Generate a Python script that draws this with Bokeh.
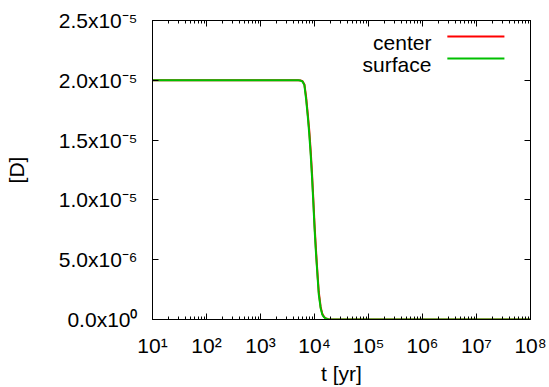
import math
from bokeh.plotting import figure
from bokeh.models import (LogAxis, LinearAxis, FixedTicker, Range1d, Label,
                          CustomJSTickFormatter)
from bokeh.embed import file_html
from bokeh.resources import INLINE

# ---------------- data ----------------
t_yr = [10, 100, 1000, 2000, 3000, 4000, 5000, 5500, 6000, 6500, 7000, 7500,
        8000, 8500, 9000, 9500, 10000, 10500, 11000, 11500, 12000, 13000,
        14000, 15000, 16000, 18000, 20000, 30000, 1e5, 1e6, 1e7, 1e8]
center = [2.0e-5, 2.0e-5, 2.0e-5, 2.0e-5, 2.0e-5, 2.0e-5, 2.0e-5, 1.999e-5,
          1.992e-5, 1.965e-5, 1.86e-5, 1.72e-5, 1.58e-5, 1.41e-5, 1.22e-5,
          1.01e-5, 8.0e-6, 6.3e-6, 4.8e-6, 3.5e-6, 2.3e-6, 1.05e-6, 4.5e-7,
          2.2e-7, 1.0e-7, 2.5e-8, 6e-9, 0.0, 0.0, 0.0, 0.0, 0.0]
surface = [2.0e-5, 2.0e-5, 2.0e-5, 2.0e-5, 2.0e-5, 2.0e-5, 2.0e-5, 1.998e-5,
           1.99e-5, 1.96e-5, 1.84e-5, 1.70e-5, 1.55e-5, 1.38e-5, 1.19e-5,
           0.98e-5, 7.7e-6, 6.0e-6, 4.6e-6, 3.3e-6, 2.1e-6, 9.5e-7, 4.0e-7,
           2.0e-7, 9e-8, 2e-8, 5e-9, 0.0, 0.0, 0.0, 0.0, 0.0]
series_names = ["center", "surface"]
series_colors = ["#ff0000", "#00c000"]

x_ticks = [1e1, 1e2, 1e3, 1e4, 1e5, 1e6, 1e7, 1e8]
x_tick_base = ["10"] * 8
x_tick_exp = ["1", "2", "3", "4", "5", "6", "7", "8"]
x_minor = [m * 10.0 ** n for n in range(1, 8) for m in range(2, 10)]

y_ticks = [0.0, 5e-6, 1.0e-5, 1.5e-5, 2.0e-5, 2.5e-5]
y_tick_base = ["0.0x10", "5.0x10", "1.0x10", "1.5x10", "2.0x10", "2.5x10"]
y_tick_exp = ["0", "-6", "-5", "-5", "-5", "-5"]

x_title = "t [yr]"
y_title = "[D]"

X0, X1 = 1e1, 1e8
Y0, Y1 = 0.0, 2.5e-5

FONT = "Liberation Sans"
FS = "21px"

SUP = str.maketrans("0123456789-", "⁰¹²³⁴⁵⁶⁷⁸⁹⁻")
x_labels = [b + e.translate(SUP) for b, e in zip(x_tick_base, x_tick_exp)]
y_labels = [b + e.translate(SUP) for b, e in zip(y_tick_base, y_tick_exp)]

p = figure(width=549, height=387, x_axis_type="log",
           x_range=Range1d(X0, X1), y_range=Range1d(Y0, Y1),
           output_backend="svg", toolbar_location=None,
           min_border_left=152, min_border_right=19,
           min_border_top=20, min_border_bottom=67)
p.xgrid.visible = False
p.ygrid.visible = False
p.outline_line_color = "black"
p.outline_line_width = 1
p.background_fill_color = "white"
p.border_fill_color = "white"

LOOKUP = """
const i = vals.findIndex(v => Math.abs(v - tick) <= 1e-6 * Math.abs(v) + 1e-20);
return i >= 0 ? labs[i] : '';
"""


def style_axis(ax, ticks, minor, labels=None):
    ax.ticker = FixedTicker(ticks=ticks, minor_ticks=minor)
    if labels is None:
        ax.formatter = CustomJSTickFormatter(code="return ''")
        ax.major_label_standoff = 0
    else:
        ax.formatter = CustomJSTickFormatter(args=dict(vals=ticks, labs=labels),
                                             code=LOOKUP)
    ax.major_label_text_font = FONT
    ax.major_label_text_font_size = FS
    ax.major_label_text_color = "black"
    ax.major_tick_in = 6
    ax.major_tick_out = 0
    ax.minor_tick_in = 3
    ax.minor_tick_out = 0
    ax.axis_line_color = "black"
    ax.major_tick_line_color = "black"
    ax.minor_tick_line_color = "black"
    ax.axis_label_text_font = FONT
    ax.axis_label_text_font_size = FS
    ax.axis_label_text_font_style = "normal"
    ax.axis_label_text_color = "black"


style_axis(p.xaxis[0], x_ticks, x_minor, x_labels)
p.xaxis[0].major_label_standoff = 14
p.xaxis[0].axis_label = x_title
p.xaxis[0].axis_label_standoff = 2

style_axis(p.yaxis[0], y_ticks, [], y_labels)
p.yaxis[0].major_label_standoff = 15
p.yaxis[0].axis_label = y_title
p.yaxis[0].axis_label_standoff = 28

top = LogAxis()
style_axis(top, x_ticks, x_minor)
p.add_layout(top, "above")
right = LinearAxis()
style_axis(right, y_ticks, [])
p.add_layout(right, "right")

# ---------------- data lines ----------------
ys = [center, surface]
for name, col, yv in zip(series_names, series_colors, ys):
    p.line(t_yr, yv, line_color=col, line_width=2)


# ---------------- key (gnuplot style: text then sample line) ----------------
def fx(f):
    return 10 ** (math.log10(X0) + f * (math.log10(X1) - math.log10(X0)))


def fy(f):
    return Y0 + f * (Y1 - Y0)


key_rows = [0.9467, 0.8733]
for name, col, r in zip(series_names, series_colors, key_rows):
    p.add_layout(Label(x=fx(0.738), y=fy(r), text=name, text_align="right",
                       text_baseline="alphabetic", y_offset=-6,
                       text_font=FONT, text_font_size=FS, text_color="black"))
    p.line([fx(0.780), fx(0.931)], [fy(r), fy(r)], line_color=col, line_width=2)

open("out.html", "w").write(file_html(p, INLINE))
